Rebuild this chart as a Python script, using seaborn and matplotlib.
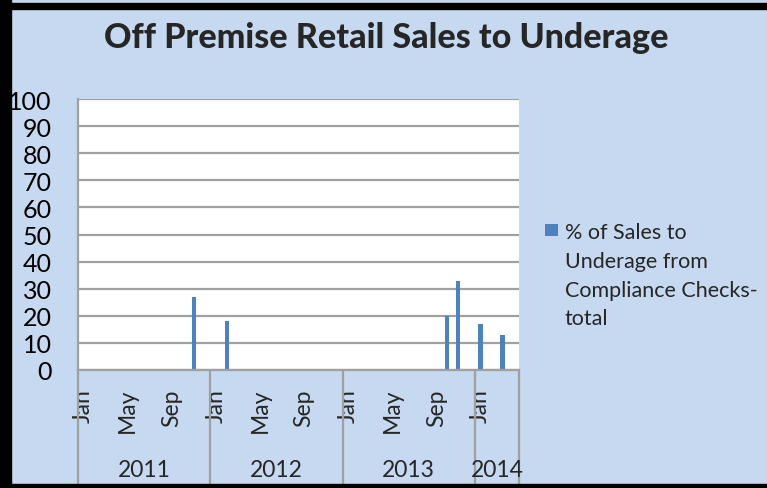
import numpy as np
import pandas as pd
import matplotlib.pyplot as plt
import matplotlib.transforms as mtransforms
from matplotlib.patches import Rectangle
import seaborn as sns

# Data (one bar per month, Jan 2011 - Apr 2014)
years = ['2011', '2012', '2013', '2014']
months_per_year = [12, 12, 12, 4]
month_names = ['Jan', 'Feb', 'Mar', 'Apr', 'May', 'Jun',
               'Jul', 'Aug', 'Sep', 'Oct', 'Nov', 'Dec']
bar_months = ['Nov 2011', 'Feb 2012', 'Oct 2013', 'Nov 2013', 'Jan 2014', 'Mar 2014']
bar_values = [27, 18, 20, 33, 17, 13]
series_label = '% of Sales to\nUnderage from\nCompliance Checks-\ntotal'

# Build the category list
categories = []
for y, n in zip(years, months_per_year):
    for m in month_names[:n]:
        categories.append(f'{m} {y}')
df = pd.DataFrame({'month': bar_months, 'pct': bar_values})

bg = '#C6D9F0'
bar_color = '#4F81BD'
grid_color = '#A0A0A0'

sns.set_theme(style='white')
plt.rcParams['font.family'] = ['Lato', 'DejaVu Sans']

fig = plt.figure(figsize=(7.67, 4.89), dpi=100)
fig.patch.set_facecolor(bg)
W, H = 767, 489
ax = fig.add_axes([78 / W, (H - 371) / H, 441 / W, 271 / H])
ax.set_facecolor('white')

sns.barplot(data=df, x='month', y='pct', order=categories, color=bar_color,
            width=0.38, saturation=1, linewidth=0, label=series_label, ax=ax)

ax.set_ylim(0, 100)
ax.set_xlim(-0.5, len(categories) - 0.5)
ax.set_yticks(range(0, 101, 10))
ax.tick_params(axis='y', labelsize=18, pad=19, length=0, labelcolor='black')
ax.yaxis.grid(True, color=grid_color, linewidth=1.6)
ax.set_axisbelow(True)

# month labels every 4th month
tick_pos = [i for i, c in enumerate(categories) if c.split()[0] in ('Jan', 'May', 'Sep')]
ax.set_xticks(tick_pos)
ax.set_xticklabels([categories[i].split()[0] for i in tick_pos], rotation=90,
                   fontsize=16.5, va='top')
ax.tick_params(axis='x', length=0, pad=13)
ax.set_xlabel('')
ax.set_ylabel('')

for side in ['top', 'right']:
    ax.spines[side].set_visible(False)
for side in ['left', 'bottom']:
    ax.spines[side].set_color(grid_color)
    ax.spines[side].set_linewidth(1.6)

# year group separators and labels
trans = mtransforms.blended_transform_factory(ax.transData, ax.transAxes)
bottom = -(485 - 371) / 271
edges = np.concatenate([[0], np.cumsum(months_per_year)]) - 0.5
for e in edges:
    ax.plot([e, e], [0, bottom], transform=trans, color=grid_color,
            linewidth=1.6, clip_on=False)
for y, a, b in zip(years, edges[:-1], edges[1:]):
    ax.text((a + b) / 2, -(471 - 371) / 271, y, transform=trans,
            ha='center', va='center', fontsize=16.5)

fig.suptitle('Off Premise Retail Sales to Underage', x=386 / W, y=1 - 38 / H,
             va='center', fontsize=24.5, fontweight='black')

leg = ax.legend(loc='upper left', bbox_to_anchor=(545 / W, 1 - 223 / H),
                bbox_transform=fig.transFigure, frameon=False, fontsize=15.5,
                handlelength=0.62, handleheight=0.6, handletextpad=0.3,
                labelspacing=0, borderpad=0, borderaxespad=0)
for t in leg.get_texts():
    t.set_linespacing(1.55)
for col in leg._legend_handle_box.get_children():
    for item in col.get_children():
        item.align = 'top'
for h in leg.legend_handles:
    h.set_height(h.get_height() * 0.85)

# dark frame of the screenshot
fig.patches.append(Rectangle((0, 0), 11 / W, 1, transform=fig.transFigure,
                             color='black', zorder=10))
fig.patches.append(Rectangle((0, 1 - 10 / H), 1, 6 / H, transform=fig.transFigure,
                             color='black', zorder=10))
fig.patches.append(Rectangle((0, 0), 1, 4 / H, transform=fig.transFigure,
                             color='black', zorder=10))

fig.savefig('out.png', dpi=100, facecolor=bg)
